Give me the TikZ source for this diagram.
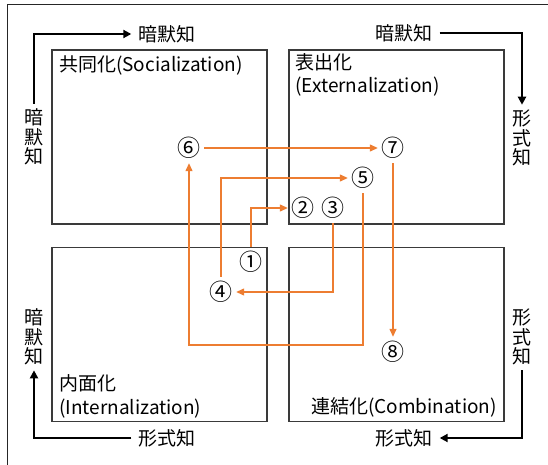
\documentclass[tikz,border=0pt]{standalone}
\usepackage{fontspec}
\setmainfont{Noto Sans CJK JP}
\usetikzlibrary{arrows.meta}
\definecolor{orng}{HTML}{ED7D31}
\definecolor{boxgray}{HTML}{3A3A3A}
\begin{document}
\begin{tikzpicture}[x=1pt,y=-1pt,
  quad/.style={draw=boxgray, line width=1.4pt, minimum width=215pt, minimum height=174pt, inner sep=0pt},
  num/.style={minimum width=30pt, minimum height=30pt, inner sep=0pt, font=\fontsize{23}{23}\selectfont},
  lbl/.style={inner sep=0pt, align=left, font=\fontsize{19}{23.5}\selectfont},
  klbl/.style={inner xsep=7pt, inner ysep=5pt, align=center, font=\fontsize{19}{19.5}\selectfont},
  karrow/.style={line width=2.6pt, -{Triangle[length=8pt,width=8pt]}},
  oarrow/.style={orng, line width=1.3pt, -{Triangle[length=8pt,width=7pt]}}]
\useasboundingbox (0,0) rectangle (548,465);
% outer frame (top and left only)
\draw[line width=1pt, black!85] (7,465) -- (7,5) -- (548,5);
% quadrants
\node[quad] (qs) at (159.5,137) {};
\node[quad] (qe) at (396.5,137) {};
\node[quad] (qi) at (159.5,334.5) {};
\node[quad] (qc) at (396.5,334.5) {};
% quadrant titles
\node[lbl, anchor=west] (ts) at (59,65) {共同化(Socialization)};
\node[lbl, anchor=west] (te) at (295,75) {表出化\\(Externalization)};
\node[lbl, anchor=west] (ti) at (59,396.5) {内面化\\(Internalization)};
\node[lbl, anchor=east] (tc) at (497,407) {連結化(Combination)};
% numbered steps
\node[num] (n1) at (251,262) {①};
\node[num] (n2) at (303,208) {②};
\node[num] (n3) at (333,208) {③};
\node[num] (n4) at (221,292) {④};
\node[num] (n5) at (363,178) {⑤};
\node[num] (n6) at (189,148) {⑥};
\node[num] (n7) at (393,148) {⑦};
\node[num] (n8) at (393,352) {⑧};
\coordinate (k56) at (189,345);
% orange connectors
\draw[oarrow] (n1.north) |- (n2.west);
\draw[oarrow] (n3.south) |- (n4.east);
\draw[oarrow] (n4.north) |- (n5.west);
\draw[oarrow] (n5.south) |- (k56) -- (n6.south);
\draw[oarrow] (n6.east) -- (n7.west);
\draw[oarrow] (n7.south) -- (n8.north);
% outer black arrows and labels
\node[klbl] (tlv) at (34,137) {暗\\默\\知};
\node[klbl] (tlh) at (167,34) {暗默知};
\node[klbl] (trh) at (404,33) {暗默知};
\node[klbl] (trv) at (522,138) {形\\式\\知};
\node[klbl] (brv) at (522,337) {形\\式\\知};
\node[klbl] (brh) at (404,438) {形式知};
\node[klbl] (blh) at (167,438) {形式知};
\node[klbl] (blv) at (34,337) {暗\\默\\知};
\draw[karrow] (tlv.north) |- (tlh.west);
\draw[karrow] (trh.east) -| (trv.north);
\draw[karrow] (brv.south) |- (brh.east);
\draw[karrow] (blh.west) -| (blv.south);
\end{tikzpicture}
\end{document}
